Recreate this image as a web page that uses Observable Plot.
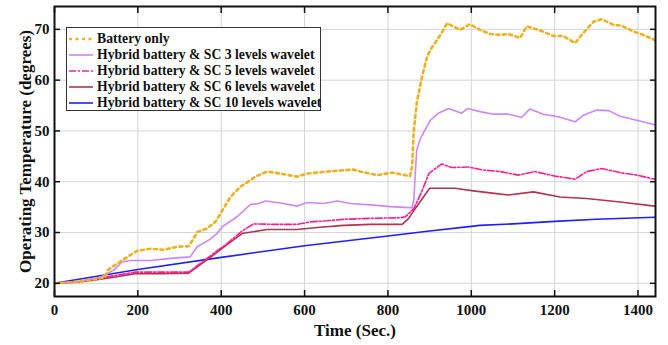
<!DOCTYPE html>
<html>
<head>
<meta charset="utf-8">
<script src="https://cdn.jsdelivr.net/npm/d3@7"></script>
<script src="https://cdn.jsdelivr.net/npm/@observablehq/plot@0.6"></script>
<style>
  html, body { margin: 0; padding: 0; background: #fff; }
  #wrap { position: relative; width: 668px; height: 345px; font-family: "Liberation Serif", "Times New Roman", serif; font-weight: bold; }
  #legend { position: absolute; left: 66px; top: 27px; width: 253px; height: 82px; border: 1.5px solid #333; background: #fff; }
  .row { position: absolute; left: 0; height: 16px; display: flex; align-items: center; font-size: 13.7px; color: #111; white-space: nowrap; }
  .row svg { margin-left: 1px; margin-right: 3px; }
</style>
</head>
<body>
<div id="wrap"><div id="chart"></div><div id="legend"></div></div>
<script>
// ---- data ----
const seriesNames = [
  "Battery only",
  "Hybrid battery & SC 3 levels wavelet",
  "Hybrid battery & SC 5 levels wavelet",
  "Hybrid battery & SC 6 levels wavelet",
  "Hybrid battery & SC 10 levels wavelet"
];
const xTicks = [0, 200, 400, 600, 800, 1000, 1200, 1400];
const yTicks = [20, 30, 40, 50, 60, 70];

const tBattery = [0,60,110,122,128,142,162,198,230,262,294,322,334,342,366,386,398,422,446,470,482,510,542,582,606,654,686,718,734,774,810,853,858,862,869,881,894,902,913,929,942,973,997,1021,1045,1069,1089,1117,1133,1165,1197,1221,1249,1269,1293,1313,1341,1361,1389,1413,1440];
const yBattery = [20,20.3,21,21.3,22.6,23.4,24.5,26.4,26.8,26.6,27.2,27.3,28.8,30.1,30.8,32.1,33.7,37,39,40.3,41,42,41.6,41,41.6,42,42.2,42.4,42,41.3,41.8,41.1,43,50,55.4,60.4,64.6,66,67.3,69.3,71.2,69.9,71,69.9,69.1,68.9,69.1,68.3,70.6,69.8,68.7,68.7,67.3,69.3,71.5,72,70.9,70.7,69.6,68.9,67.9];

const tSC3 = [0,60,110,142,162,182,230,278,326,342,370,390,402,438,470,490,506,542,582,606,646,678,710,766,806,850,858,862,869,878,889,902,921,945,977,991,1021,1053,1089,1121,1140,1173,1209,1249,1269,1301,1330,1357,1397,1440];
const ySC3 = [20,20.4,21.2,22.6,24.2,24.5,24.5,24.9,25.2,27.2,28.5,29.8,31.1,33.1,35.5,35.7,36.2,35.8,35.2,35.9,35.7,36.2,35.7,35.4,35.1,34.9,34.9,36.4,46.2,48.5,50.2,52.1,53.5,54.4,53.5,54.4,53.8,53.3,53.3,52.7,54.3,53.3,52.8,51.8,53.1,54.1,54,52.9,52.1,51.2];

const tSC5 = [0,54,102,150,194,254,322,350,382,414,450,478,526,582,614,654,694,758,830,842,862,881,898,929,953,993,1029,1069,1113,1153,1201,1249,1277,1313,1357,1397,1440];
const ySC5 = [20,20.3,20.9,21.6,22.2,22.2,22.2,23.9,25.9,27.8,30.3,31.7,31.6,31.6,32.1,32.3,32.6,32.8,32.9,33.1,34.7,38,41.6,43.5,42.8,42.9,42.3,42,41.3,42,41.1,40.5,42,42.6,41.8,41.3,40.5];

const tSC6 = [0,54,102,150,194,254,322,350,382,414,450,510,582,630,694,758,834,850,862,900,961,1005,1045,1089,1149,1213,1277,1357,1440];
const ySC6 = [20,20.2,20.7,21.3,21.9,21.9,22,23.7,25.6,27.6,29.8,30.6,30.6,31,31.4,31.6,31.6,32.8,34.3,38.7,38.7,38.2,37.8,37.4,38,37,36.7,36,35.2];

const tSC10 = [0,200,400,600,800,900,1000,1020,1100,1200,1300,1440];
const ySC10 = [20,22.7,25.1,27.4,29.3,30.3,31.2,31.4,31.7,32.2,32.6,33];

// ---- styles ----
const styles = [
  {stroke: "#EDB120", strokeWidth: 2.6, strokeDasharray: "3,3.5"},
  {stroke: "#CC85FF", strokeWidth: 1.6, strokeDasharray: null},
  {stroke: "#FF1C94", strokeWidth: 1.6, strokeDasharray: "7,2,2,2"},
  {stroke: "#B0354E", strokeWidth: 1.6, strokeDasharray: null},
  {stroke: "#1E1EFF", strokeWidth: 1.6, strokeDasharray: null}
];

const tables = [
  d3.zip(tBattery, yBattery),
  d3.zip(tSC3, ySC3),
  d3.zip(tSC5, ySC5),
  d3.zip(tSC6, ySC6),
  d3.zip(tSC10, ySC10)
].map(rows => rows.map(([t, v]) => ({t, v})));

const gridStyle = {stroke: "#d4d4d4", strokeOpacity: 1, strokeWidth: 1};
const blank = () => "";
const plain = d => String(d);

const lineMarks = tables.map((rows, i) => Plot.line(rows, {x: "t", y: "v", ...styles[i], strokeLinejoin: "round"}));

const chart = Plot.plot({
  width: 668,
  height: 345,
  marginLeft: 54,
  marginRight: 13,
  marginTop: 6,
  marginBottom: 49,
  style: {fontFamily: '"Liberation Serif", "Times New Roman", serif', fontWeight: "bold", fontSize: "15px", background: "#fff", color: "#111"},
  x: {domain: [0, 1442]},
  y: {domain: [17.4, 74.5]},
  marks: [
    Plot.gridX(xTicks, gridStyle),
    Plot.gridY(yTicks, gridStyle),
    ...lineMarks.reverse(),
    Plot.axisX(xTicks, {tickSize: 0, tickPadding: 8, tickFormat: plain, fontSize: 15, fontWeight: "bold", label: null}),
    Plot.axisX(xTicks, {tickSize: -6, tickFormat: blank, label: null, strokeWidth: 1.5}),
    Plot.axisX(xTicks, {anchor: "top", tickSize: -6, tickFormat: blank, label: null, strokeWidth: 1.5}),
    Plot.axisY(yTicks, {tickSize: 0, tickPadding: 5, fontSize: 15, fontWeight: "bold", label: null}),
    Plot.axisY(yTicks, {tickSize: -6, tickFormat: blank, label: null, strokeWidth: 1.5}),
    Plot.axisY(yTicks, {anchor: "right", tickSize: -6, tickFormat: blank, label: null, strokeWidth: 1.5}),
    Plot.frame({stroke: "#111", strokeWidth: 2}),
    Plot.text(["Time (Sec.)"], {frameAnchor: "bottom", dy: 34, lineAnchor: "middle", fontSize: 17, fontWeight: "bold"}),
    Plot.text(["Operating Temperature (degrees)"], {frameAnchor: "left", dx: -29, rotate: -90, textAnchor: "middle", lineAnchor: "middle", fontSize: 17, fontWeight: "bold"})
  ]
});
document.getElementById("chart").appendChild(chart);

// ---- legend ----
const legend = document.getElementById("legend");
seriesNames.forEach((name, i) => {
  const s = styles[i];
  const row = document.createElement("div");
  row.className = "row";
  row.style.top = (3 + i * 16) + "px";
  row.innerHTML = `<svg width="26" height="16"><line x1="1" x2="25" y1="8" y2="8" stroke="${s.stroke}" stroke-width="${s.strokeWidth}" ${s.strokeDasharray ? `stroke-dasharray="${s.strokeDasharray}"` : ""}/></svg><span></span>`;
  row.querySelector("span").textContent = name;
  legend.appendChild(row);
});
</script>
</body>
</html>
